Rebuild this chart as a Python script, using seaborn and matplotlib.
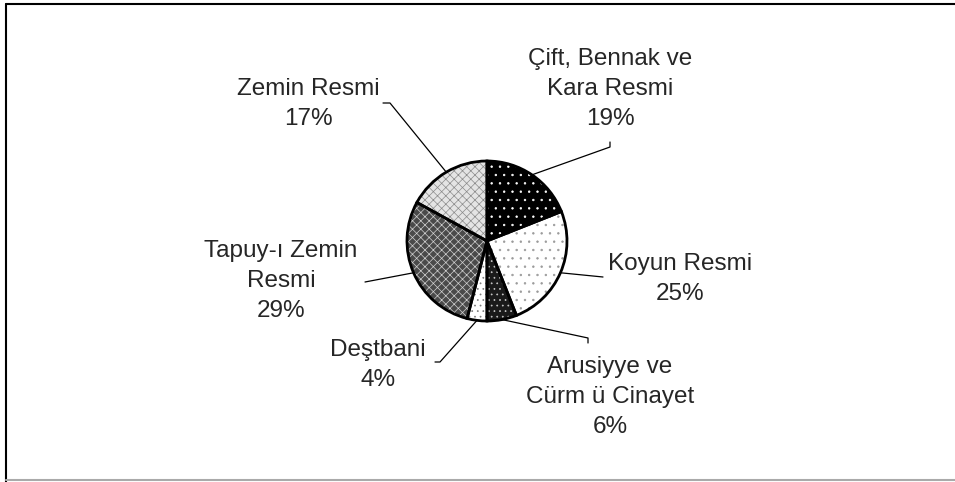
import numpy as np
import matplotlib
matplotlib.use("Agg")
import matplotlib.pyplot as plt
import seaborn as sns
from matplotlib.lines import Line2D

# dilimler, saat yönünde tepeden başlayarak
labels = ["Çift, Bennak ve\nKara Resmi", "Koyun Resmi", "Arusiyye ve\nCürm ü Cinayet",
          "Deştbani", "Tapuy-ı Zemin\nResmi", "Zemin Resmi"]
shares = [19, 25, 6, 4, 29, 17]

sns.set_style("white")
plt.rcParams["font.family"] = ["Liberation Sans", "DejaVu Sans"]
plt.rcParams["hatch.linewidth"] = 0.5

W, H = 955, 482
fig = plt.figure(figsize=(9.55, 4.82), dpi=100)
ax = fig.add_axes([0, 0, 1, 1])

cx, cy, r = 487, H - 241, 80
faces = ["black", "white", "#1a1a1a", "white", "#4a4a4a", "#e4e4e4"]
hatch_cols = ["white", "#9a9a9a", "#c8c8c8", "#7a7a7a", "#d0d0d0", "#8a8a8a"]
hatches = ["..", "..", "...", "...", "xxxx", "xxxx"]

wedges, _ = ax.pie(shares, startangle=90, counterclock=False, center=(cx, cy), radius=r,
                   colors=faces, wedgeprops=dict(linewidth=0), frame=True)
for w, h, hc in zip(wedges, hatches, hatch_cols):
    w.set_hatch(h)
    w.set_edgecolor(hc)

# kenar çizgileri
ax.pie(shares, startangle=90, counterclock=False, center=(cx, cy), radius=r,
       colors=["none"] * len(shares), frame=True,
       wedgeprops=dict(edgecolor="black", linewidth=2))

# etiket konumları (piksel, y aşağı)
text_pos = [(610, 89), (680, 279), (610, 397), (378, 365), (281, 281), (308, 104)]
leaders = [[(610, 147), (610, 142)], [(603, 277)], [(588, 338), (588, 343)],
           [(440, 362), (435, 362)], [(365, 282)], [(390, 103), (383, 103)]]

for w, lab, s, (tx, ty), pts in zip(wedges, labels, shares, text_pos, leaders):
    ang = np.deg2rad((w.theta1 + w.theta2) / 2)
    ex, ey = cx + r * np.cos(ang), cy + r * np.sin(ang)
    xs = [ex] + [p[0] for p in pts]
    ys = [ey] + [H - p[1] for p in pts]
    ax.plot(xs, ys, color="black", lw=0.9)
    ax.text(tx, H - ty, f"{lab}\n{s}%", ha="center", va="center", fontsize=17.5,
            linespacing=1.45, multialignment="center")

ax.set_xlim(0, W)
ax.set_ylim(0, H)
ax.set_aspect("equal")
ax.axis("off")

# çerçeve
fig.add_artist(Line2D([6 / W, 6 / W], [0, 1 - 4 / H], transform=fig.transFigure, color="black", lw=1.5))
fig.add_artist(Line2D([6 / W, 1], [1 - 4 / H, 1 - 4 / H], transform=fig.transFigure, color="black", lw=1.5))
fig.add_artist(Line2D([6 / W, 1], [1 - 480 / H, 1 - 480 / H], transform=fig.transFigure, color="#aaaaaa", lw=1.5))

fig.savefig("out.png", dpi=100, facecolor="white")
